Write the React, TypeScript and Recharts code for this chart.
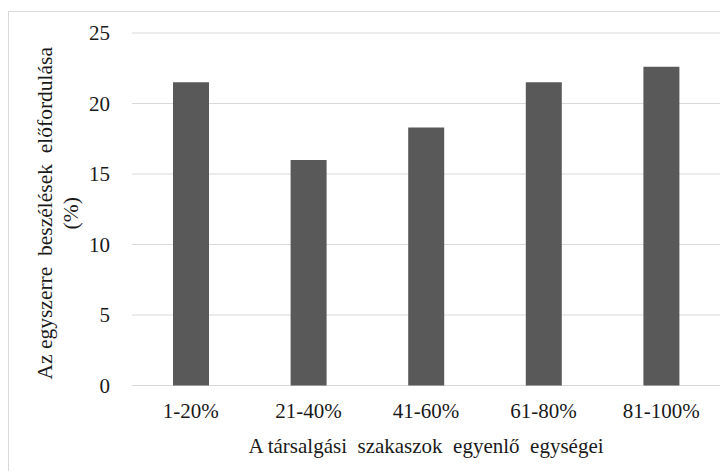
import { BarChart, Bar, XAxis, YAxis, CartesianGrid, Label } from "recharts";

const categories = ["1-20%", "21-40%", "41-60%", "61-80%", "81-100%"];
const shares = [21.5, 16, 18.3, 21.5, 22.6];
const yTicks = [0, 5, 10, 15, 20, 25];

const data = categories.map((c, i) => ({ cat: c, share: shares[i] }));

const font = "'Liberation Serif', 'Times New Roman', serif";
const tick = { fontFamily: font, fontSize: 21, fill: "#1a1a1a" };
const titleStyle = { whiteSpace: "pre" as const, fontFamily: font };

function YTitle({ viewBox }: any) {
  const cy = viewBox.y + viewBox.height / 2 + 4;
  return (
    <g fontSize={21.5} fill="#1a1a1a">
      <text x={44} y={cy} textAnchor="middle" style={titleStyle} transform={`rotate(-90 44 ${cy})`}>
        {"Az egyszerre  beszélések  előfordulása"}
      </text>
      <text x={70} y={cy} textAnchor="middle" style={titleStyle} transform={`rotate(-90 70 ${cy})`}>
        (%)
      </text>
    </g>
  );
}

function XTitle({ viewBox }: any) {
  const cx = viewBox.x + viewBox.width / 2;
  return (
    <text x={cx} y={viewBox.y + 67.5} textAnchor="middle" fontSize={21}
      fill="#1a1a1a" style={titleStyle}>
      {"A társalgási  szakaszok  egyenlő  egységei"}
    </text>
  );
}

export default function App() {
  return (
    <div style={{ position: "relative", top: 3, width: 720, height: 463, fontFamily: font }}>
      <BarChart width={720} height={463} data={data}
        margin={{ top: 22, right: 8, left: 0, bottom: 48.5 }}>
        <CartesianGrid vertical={false} stroke="#d9d9d9" />
        <XAxis dataKey="cat" height={40} axisLine={false} tickLine={false} tickSize={0}
          tickMargin={18} tick={tick} interval={0}>
          <Label content={<XTitle />} />
        </XAxis>
        <YAxis width={124} domain={[0, 25]} ticks={yTicks} axisLine={false} tickLine={false}
          tickSize={0} tickMargin={22} tick={tick}>
          <Label content={<YTitle />} />
        </YAxis>
        <Bar dataKey="share" fill="#595959" barSize={36} isAnimationActive={false} />
      </BarChart>
      <div style={{ position: "absolute", inset: 0, borderLeft: "1px solid #d9d9d9",
        borderTop: "1px solid #d9d9d9", pointerEvents: "none" }} />
    </div>
  );
}
